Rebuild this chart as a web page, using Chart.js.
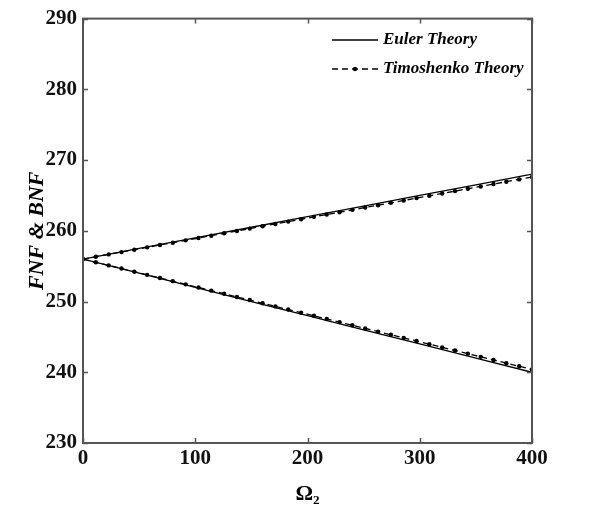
<!DOCTYPE html>
<html><head><meta charset="utf-8">
<script src="https://cdn.jsdelivr.net/npm/chart.js@4"></script>
<style>html,body{margin:0;padding:0;background:#fff;}#wrap{width:590px;height:518px;}</style>
</head><body><div id="wrap"><canvas id="c" width="590" height="518"></canvas></div>
<script>
// ---- data ----
const omegaEuler = [0, 50, 100, 150, 200, 250, 300, 350, 400];
const fnfEuler = [256.0, 257.5, 259.0, 260.5, 262.0, 263.5, 265.0, 266.5, 268.0];
const bnfEuler = [256.0, 254.0, 252.0, 250.0, 248.0, 246.0, 244.0, 242.0, 240.0];

const omegaTimo = [0, 11.43, 22.86, 34.29, 45.71, 57.14, 68.57, 80, 91.43, 102.86, 114.29, 125.71,
  137.14, 148.57, 160, 171.43, 182.86, 194.29, 205.71, 217.14, 228.57, 240, 251.43, 262.86,
  274.29, 285.71, 297.14, 308.57, 320, 331.43, 342.86, 354.29, 365.71, 377.14, 388.57, 400];
const fnfTimo = [256.0, 256.33, 256.66, 256.99, 257.33, 257.66, 257.99, 258.32, 258.65, 258.98, 259.31, 259.65,
  259.98, 260.31, 260.64, 260.97, 261.30, 261.63, 261.97, 262.30, 262.63, 262.96, 263.29, 263.62,
  263.95, 264.29, 264.62, 264.95, 265.28, 265.61, 265.94, 266.27, 266.61, 266.94, 267.27, 267.60];
const bnfTimo = [256.0, 255.55, 255.11, 254.66, 254.22, 253.77, 253.33, 252.88, 252.43, 251.99, 251.54, 251.10,
  250.65, 250.21, 249.76, 249.31, 248.87, 248.42, 247.98, 247.53, 247.09, 246.64, 246.19, 245.75,
  245.30, 244.86, 244.41, 243.97, 243.52, 243.07, 242.63, 242.18, 241.74, 241.29, 240.85, 240.40];

const xTickValues = [0, 100, 200, 300, 400];
const yTickValues = [230, 240, 250, 260, 270, 280, 290];
const legendLabels = ['Euler Theory', 'Timoshenko Theory'];
const xTitle = 'Ω₂';
const yTitle = 'FNF & BNF';

// ---- chart ----
const pts = (xs, ys) => xs.map((x, i) => ({x: x, y: ys[i]}));
const serif = "'Liberation Serif', 'Times New Roman', serif";

const eulerStyle = {borderColor: '#000', borderWidth: 1.3, pointRadius: 0, fill: false, tension: 0};
const timoStyle = {borderColor: '#000', borderWidth: 1.3, borderDash: [6, 4], pointRadius: 2.2,
  pointBackgroundColor: '#000', pointBorderColor: '#000', pointBorderWidth: 0, fill: false, tension: 0};

const frameAndLegend = {
  id: 'frameAndLegend',
  afterDraw(chart) {
    const ctx = chart.ctx, a = chart.chartArea;
    const xs = chart.scales.x, ys = chart.scales.y;
    ctx.save();
    ctx.strokeStyle = '#555';
    ctx.lineWidth = 2;
    ctx.setLineDash([]);
    ctx.strokeRect(a.left, a.top, a.right - a.left, a.bottom - a.top);
    ctx.lineWidth = 1.5;
    ctx.beginPath();
    const tl = 5;
    xTickValues.forEach(v => {
      const px = Math.round(xs.getPixelForValue(v)) + 0.5;
      ctx.moveTo(px, a.bottom); ctx.lineTo(px, a.bottom - tl);
      ctx.moveTo(px, a.top); ctx.lineTo(px, a.top + tl);
    });
    yTickValues.forEach(v => {
      const py = Math.round(ys.getPixelForValue(v)) + 0.5;
      ctx.moveTo(a.left, py); ctx.lineTo(a.left + tl, py);
      ctx.moveTo(a.right, py); ctx.lineTo(a.right - tl, py);
    });
    ctx.stroke();

    // legend
    const lx0 = 332, lx1 = 378, tx = 383;
    const rows = [40, 69];
    ctx.strokeStyle = '#000';
    ctx.lineWidth = 1.3;
    ctx.beginPath(); ctx.moveTo(lx0, rows[0]); ctx.lineTo(lx1, rows[0]); ctx.stroke();
    ctx.setLineDash([6, 4]);
    ctx.beginPath(); ctx.moveTo(lx0, rows[1]); ctx.lineTo(lx1, rows[1]); ctx.stroke();
    ctx.setLineDash([]);
    ctx.fillStyle = '#000';
    ctx.beginPath(); ctx.arc((lx0 + lx1) / 2, rows[1], 2.2, 0, Math.PI * 2); ctx.fill();
    ctx.font = "italic bold 17px " + serif;
    ctx.textBaseline = 'middle';
    ctx.textAlign = 'left';
    ctx.fillText(legendLabels[0], tx, rows[0]);
    ctx.fillText(legendLabels[1], tx, rows[1]);
    ctx.restore();
  }
};

new Chart(document.getElementById('c'), {
  type: 'line',
  data: {
    datasets: [
      Object.assign({label: legendLabels[0] + ' FNF', data: pts(omegaEuler, fnfEuler)}, eulerStyle),
      Object.assign({label: legendLabels[0] + ' BNF', data: pts(omegaEuler, bnfEuler)}, eulerStyle),
      Object.assign({label: legendLabels[1] + ' FNF', data: pts(omegaTimo, fnfTimo)}, timoStyle),
      Object.assign({label: legendLabels[1] + ' BNF', data: pts(omegaTimo, bnfTimo)}, timoStyle)
    ]
  },
  options: {
    responsive: false,
    animation: false,
    devicePixelRatio: 1,
    layout: {padding: {left: 0, top: 15, right: 58, bottom: 0}},
    plugins: {legend: {display: false}, tooltip: {enabled: false}},
    scales: {
      x: {
        type: 'linear', min: 0, max: 400,
        afterBuildTicks: s => { s.ticks = xTickValues.map(v => ({value: v})); },
        afterFit: s => { s.height = 75; },
        grid: {display: false, drawTicks: false},
        border: {display: false},
        ticks: {color: '#111', padding: 3, font: {family: serif, size: 21, weight: 'bold'}},
        title: {display: true, text: xTitle, color: '#000', padding: {top: 0, bottom: 10},
          font: {family: serif, size: 22, weight: 'bold'}}
      },
      y: {
        type: 'linear', min: 230, max: 290,
        afterBuildTicks: s => { s.ticks = yTickValues.map(v => ({value: v})); },
        afterFit: s => { s.width = 83; },
        grid: {display: false, drawTicks: false},
        border: {display: false},
        ticks: {color: '#111', padding: 6, font: {family: serif, size: 21, weight: 'bold'}},
        title: {display: true, text: yTitle, color: '#000', padding: {top: 24, bottom: 0},
          font: {family: serif, size: 22, weight: 'bold', style: 'italic'}}
      }
    }
  },
  plugins: [frameAndLegend]
});
</script>
</body></html>
